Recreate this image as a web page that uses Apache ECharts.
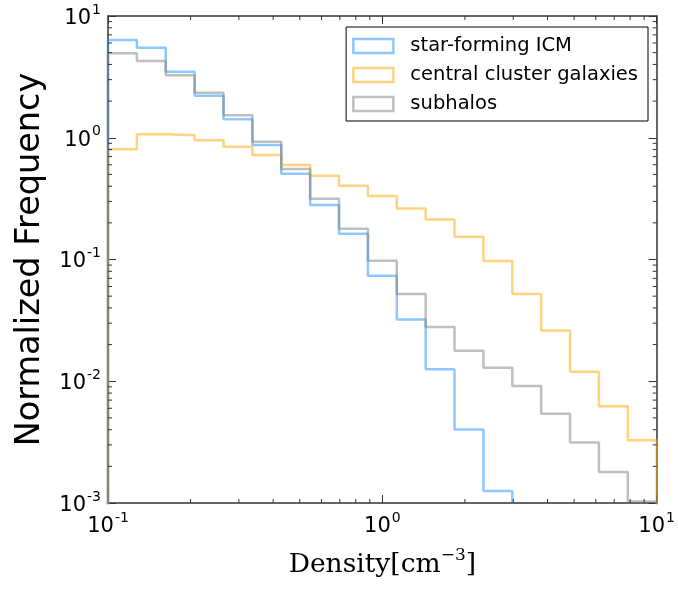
<!DOCTYPE html>
<html>
<head>
<meta charset="utf-8">
<script src="https://cdn.jsdelivr.net/npm/echarts@6/dist/echarts.min.js"></script>
<style>html,body{margin:0;padding:0;background:#fff;}#c{width:678px;height:591px;}</style>
</head>
<body>
<div id="c"></div>
<script>
// Log-spaced bin edges (19 bins from 0.1 to 10)
var binEdges = [0.1, 0.12743, 0.16238, 0.20691, 0.26367, 0.33598, 0.42813, 0.54556, 0.69519, 0.88587,
  1.12884, 1.43845, 1.83298, 2.33572, 2.97635, 3.79269, 4.83293, 6.15848, 7.8476, 10];
var seriesNames = ['star-forming ICM', 'central cluster galaxies', 'subhalos'];
var starFormingICM = [6.35, 5.49, 3.49, 2.21, 1.42, 0.871, 0.505, 0.280, 0.163, 0.0734, 0.0322, 0.01256, 0.00402, 0.001257];
var centralGalaxies = [0.803, 1.07, 1.046, 0.953, 0.844, 0.721, 0.597, 0.488, 0.403, 0.332, 0.262, 0.213, 0.154, 0.097, 0.052, 0.0261, 0.01194, 0.00624, 0.00327];
var subhalos = [4.94, 4.27, 3.26, 2.34, 1.53, 0.927, 0.555, 0.315, 0.179, 0.0976, 0.052, 0.0279, 0.0178, 0.0129, 0.00912, 0.0054, 0.00314, 0.0018, 0.00103];
var xMinorTicks = [0.2, 0.3, 0.4, 0.5, 0.6, 0.7, 0.8, 0.9, 2, 3, 4, 5, 6, 7, 8, 9];
var yMinorTicks = [0.002, 0.003, 0.004, 0.005, 0.006, 0.007, 0.008, 0.009,
  0.02, 0.03, 0.04, 0.05, 0.06, 0.07, 0.08, 0.09,
  0.2, 0.3, 0.4, 0.5, 0.6, 0.7, 0.8, 0.9,
  2, 3, 4, 5, 6, 7, 8, 9];
var colors = ['rgba(30,144,255,0.5)', 'rgba(255,165,0,0.5)', 'rgba(128,128,128,0.5)'];

var FLOOR = 1e-5;
function stepPoints(vals) {
  var pts = [[binEdges[0], FLOOR]];
  for (var i = 0; i < vals.length; i++) {
    pts.push([binEdges[i], vals[i]]);
    pts.push([binEdges[i + 1], vals[i]]);
  }
  pts.push([binEdges[vals.length], FLOOR]);
  return pts;
}

function supFmt(v) {
  var e = Math.round(Math.log10(v));
  return '{b|10}{s|' + (e < 0 ? '-' + (-e) : e) + '}';
}
var labelRich = {
  b: {fontFamily: 'DejaVu Sans', fontSize: 21, color: '#000', lineHeight: 26, verticalAlign: 'bottom'},
  s: {fontFamily: 'DejaVu Sans', fontSize: 14, color: '#000', lineHeight: 26, verticalAlign: 'top', padding: [0, 0, 0, 1]}
};
var axisLine = {show: true, lineStyle: {color: '#333', width: 1.5}};
var majorTick = {show: true, inside: true, length: 8, lineStyle: {color: '#333', width: 1}};

var minorData = [];
xMinorTicks.forEach(function (v) { minorData.push([v, 1, 0]); });
yMinorTicks.forEach(function (v) { minorData.push([1, v, 1]); });

var chart = echarts.init(document.getElementById('c'), null, {renderer: 'canvas'});
chart.setOption({
  animation: false,
  backgroundColor: '#fff',
  grid: {left: 108, right: 21, top: 16, bottom: 88, containLabel: false},
  legend: {
    orient: 'vertical', right: 30, top: 27,
    backgroundColor: '#fff', borderColor: '#000', borderWidth: 1, borderRadius: 0,
    padding: [9, 10, 7, 6],
    itemWidth: 40, itemHeight: 14, itemGap: 9,
    textStyle: {fontFamily: 'DejaVu Sans', fontSize: 19.5, color: '#000', lineHeight: 14, padding: [0, 0, 0, 12]},
    data: seriesNames.map(function (n, i) {
      return {name: n, icon: 'rect', itemStyle: {color: 'transparent', borderColor: colors[i], borderWidth: 2.5}};
    })
  },
  xAxis: [{
    type: 'log', logBase: 10, min: 0.1, max: 10, position: 'bottom', z: 3,
    axisLine: axisLine, axisTick: majorTick, splitLine: {show: false},
    axisLabel: {formatter: supFmt, rich: labelRich, margin: 8},
    name: '{a|Density[cm}{s|\u22123}{a|]}', nameLocation: 'middle', nameGap: 44,
    nameTextStyle: {rich: {
      a: {fontFamily: 'DejaVu Serif', fontSize: 26.5, color: '#000', lineHeight: 32, verticalAlign: 'bottom'},
      s: {fontFamily: 'DejaVu Serif', fontSize: 17, color: '#000', lineHeight: 32, verticalAlign: 'top'}
    }}
  }, {
    type: 'log', logBase: 10, min: 0.1, max: 10, position: 'top', z: 3,
    axisLine: axisLine, axisTick: majorTick, axisLabel: {show: false}, splitLine: {show: false}
  }],
  yAxis: [{
    type: 'log', logBase: 10, min: 0.001, max: 10, interval: 1, position: 'left', z: 3,
    axisLine: axisLine, axisTick: majorTick, splitLine: {show: false},
    axisLabel: {formatter: supFmt, rich: labelRich, margin: 7},
    name: 'Normalized Frequency', nameLocation: 'middle', nameGap: 61, nameRotate: 90,
    nameTextStyle: {fontFamily: 'DejaVu Sans', fontSize: 33.5, color: '#000'}
  }, {
    type: 'log', logBase: 10, min: 0.001, max: 10, interval: 1, position: 'right', z: 3,
    axisLine: axisLine, axisTick: majorTick, axisLabel: {show: false}, splitLine: {show: false}
  }],
  series: [
    {name: seriesNames[0], type: 'line', data: stepPoints(starFormingICM), showSymbol: false, symbol: 'none', clip: true,
     lineStyle: {color: colors[0], width: 2.5}, itemStyle: {color: colors[0]}},
    {name: seriesNames[1], type: 'line', data: stepPoints(centralGalaxies), showSymbol: false, symbol: 'none', clip: true,
     lineStyle: {color: colors[1], width: 2.5}, itemStyle: {color: colors[1]}},
    {name: seriesNames[2], type: 'line', data: stepPoints(subhalos), showSymbol: false, symbol: 'none', clip: true,
     lineStyle: {color: colors[2], width: 2.5}, itemStyle: {color: colors[2]}},
    {name: 'minorTicks', type: 'custom', silent: true, clip: false, z: 5,
     data: minorData,
     renderItem: function (params, api) {
       var kind = api.value(2);
       var cs = params.coordSys;
       var p = api.coord([api.value(0), api.value(1)]);
       var st = {stroke: '#333', lineWidth: 1};
       if (kind === 0) {
         var yb = cs.y + cs.height, yt = cs.y;
         return {type: 'group', children: [
           {type: 'line', shape: {x1: p[0], y1: yb, x2: p[0], y2: yb - 4}, style: st},
           {type: 'line', shape: {x1: p[0], y1: yt, x2: p[0], y2: yt + 4}, style: st}
         ]};
       }
       var xl = cs.x, xr = cs.x + cs.width;
       return {type: 'group', children: [
         {type: 'line', shape: {x1: xl, y1: p[1], x2: xl + 4, y2: p[1]}, style: st},
         {type: 'line', shape: {x1: xr, y1: p[1], x2: xr - 4, y2: p[1]}, style: st}
       ]};
     }}
  ]
});
</script>
</body>
</html>
